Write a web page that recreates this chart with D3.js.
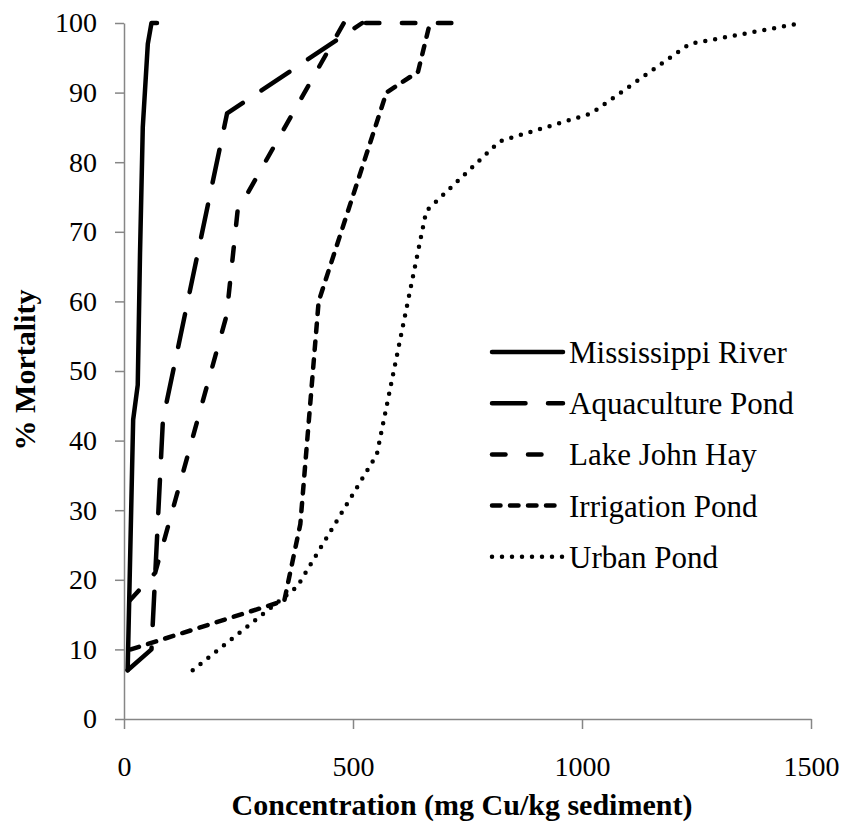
<!DOCTYPE html>
<meta charset="utf-8">
<script src="https://d3js.org/d3.v7.min.js"></script>
<body style="margin: 0; background: #fff;">
<svg id="chart" width="847" height="825"></svg>
</body>

<style>
  .axis path, .axis line { stroke: #868686; stroke-width: 1.5px; }
  .series { fill: none; stroke: #000; stroke-width: 4.5px; stroke-linejoin: round; }
</style>

<script>
// tick values
var xTicks = [0, 500, 1000, 1500];
var yTicks = [0, 10, 20, 30, 40, 50, 60, 70, 80, 90, 100];

// [concentration mg Cu/kg, % mortality]
var seriesNames = ["Mississippi River", "Aquaculture Pond", "Lake John Hay", "Irrigation Pond", "Urban Pond"];
var mississippi = [[8, 7], [20, 43], [30, 48], [35, 67], [41, 85], [52, 97], [60, 100], [72, 100]];
var aquaculture = [[8, 7], [60, 10], [85, 43], [225, 87], [520, 100]];
var lakeJohnHay = [[12, 17], [68, 21], [224, 58], [248, 73], [480, 100], [745, 100]];
var irrigation = [[15, 10], [350, 17], [385, 28], [425, 60], [573, 90], [642, 93], [668, 100]];
var urban = [[150, 7], [378, 19], [552, 38], [660, 73], [820, 83], [1020, 87], [1235, 97], [1480, 100]];

var seriesData = [mississippi, aquaculture, lakeJohnHay, irrigation, urban];

// line styles, one per series
var dashStyle = ["none", "33.5,22.5", "13.5,22.5", "8.5,9.5", "0,10"];

var serif = "'Liberation Serif', 'Times New Roman', Times, serif";

var svg = d3.select("#chart");

var x = d3.scaleLinear().domain([0, 1500]).range([124, 811]);
var y = d3.scaleLinear().domain([0, 100]).range([719, 23]);

// axes
svg.append("g")
    .attr("class", "axis")
    .attr("transform", "translate(0,719)")
    .call(d3.axisBottom(x).tickValues(xTicks).tickSize(10).tickSizeOuter(0).tickPadding(27).tickFormat(d3.format("d")));

svg.append("g")
    .attr("class", "axis")
    .attr("transform", "translate(124,0)")
    .call(d3.axisLeft(y).tickValues(yTicks).tickSize(9).tickSizeOuter(0).tickPadding(18));

svg.selectAll(".axis")
    .attr("font-family", serif)
    .attr("font-size", 28);
svg.selectAll(".axis text")
    .attr("fill", "#000")
    .style("font-family", serif)
    .style("font-size", "28px");

// lines
var line = d3.line()
    .x(function(d) { return x(d[0]); })
    .y(function(d) { return y(d[1]); });

svg.append("g").selectAll("path")
  .data(seriesData)
  .join("path")
    .attr("class", "series")
    .attr("d", line)
    .attr("stroke-dasharray", function(d, i) { return dashStyle[i]; })
    .attr("stroke-linecap", "round");

// legend
var legend = svg.append("g").attr("transform", "translate(492,352)");

var item = legend.selectAll("g")
  .data(seriesNames)
  .join("g")
    .attr("transform", function(d, i) { return "translate(0," + (i * 51.2) + ")"; });

item.append("line")
    .attr("class", "series")
    .attr("x1", 0).attr("x2", 71)
    .attr("stroke-dasharray", function(d, i) { return dashStyle[i]; })
    .attr("stroke-linecap", "round");

item.append("text")
    .attr("x", 77)
    .attr("y", 11)
    .style("font-family", serif)
    .style("font-size", "31px")
    .text(function(d) { return d; });

// axis titles
svg.append("text")
    .attr("x", 462)
    .attr("y", 815)
    .attr("text-anchor", "middle")
    .style("font-family", serif)
    .style("font-size", "30px")
    .style("font-weight", "bold")
    .text("Concentration (mg Cu/kg sediment)");

svg.append("text")
    .attr("transform", "translate(35,370) rotate(-90)")
    .attr("text-anchor", "middle")
    .style("font-family", serif)
    .style("font-size", "30px")
    .style("font-weight", "bold")
    .text("% Mortality");
</script>
